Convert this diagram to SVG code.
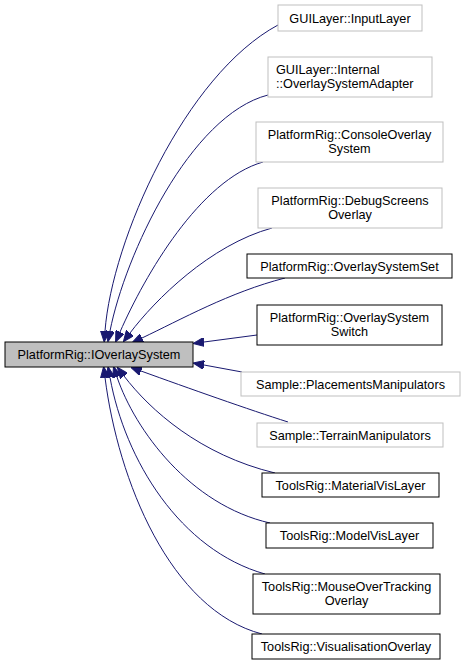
<svg xmlns="http://www.w3.org/2000/svg" width="464" height="672" viewBox="0 0 464 672">
<style>
text{font-family:"Liberation Sans",Arial,sans-serif;font-size:12.7px;fill:#000}
.c{text-anchor:middle}
.g{fill:#fff;stroke:#bfbfbf;stroke-width:1}
.b{fill:#fff;stroke:#000;stroke-width:1}
.m{fill:#bfbfbf;stroke:#000;stroke-width:1}
.e{fill:none;stroke:#191970;stroke-width:1;marker-start:url(#ah)}
</style>
<defs>
<marker id="ah" markerUnits="userSpaceOnUse" markerWidth="11" markerHeight="9" viewBox="0 0 11 9" refX="0" refY="4.5" orient="auto-start-reverse">
<path d="M0,0 L11,4.5 L0,9 z" fill="#191970" stroke="#191970" stroke-width="1"/>
</marker>
</defs>
<g id="edges">
<path class="e" d="M105,331 C112,240 185,75 278,25"/>
<path class="e" d="M110,331 C125,255 190,115 268,95"/>
<path class="e" d="M120,332 C145,275 200,180 263,162"/>
<path class="e" d="M130,333 C155,300 210,245 272,228"/>
<path class="e" d="M142,338 C180,320 230,292 285,278"/>
<path class="e" d="M204,342 L257,335"/>
<path class="e" d="M204,365 L242,372"/>
<path class="e" d="M141,371 C188,388 250,410 288,422"/>
<path class="e" d="M124,376 C150,410 200,455 275,473"/>
<path class="e" d="M117,377 C135,430 190,505 270,523"/>
<path class="e" d="M110,377.5 C125,460 180,550 265,574"/>
<path class="e" d="M105,377.5 C118,480 170,610 262,634"/>
</g>
<g id="main"><rect class="m" x="5" y="342" width="188" height="25"/><text class="c" x="99" y="359">PlatformRig::IOverlaySystem</text></g>
<g id="n1"><rect class="g" x="278" y="5" width="144" height="26"/><text class="c" x="350" y="23">GUILayer::InputLayer</text></g>
<g id="n2"><rect class="g" x="268" y="57" width="164" height="40"/><text x="276" y="74">GUILayer::Internal</text><text x="276" y="88">::OverlaySystemAdapter</text></g>
<g id="n3"><rect class="g" x="256" y="122" width="187" height="40"/><text class="c" x="349.5" y="139">PlatformRig::ConsoleOverlay</text><text class="c" x="349.5" y="153">System</text></g>
<g id="n4"><rect class="g" x="258" y="188" width="184" height="40"/><text class="c" x="350" y="205">PlatformRig::DebugScreens</text><text class="c" x="350" y="219">Overlay</text></g>
<g id="n5"><rect class="b" x="247" y="254" width="205" height="24"/><text class="c" x="349.5" y="270.5">PlatformRig::OverlaySystemSet</text></g>
<g id="n6"><rect class="b" x="257" y="305" width="185" height="40"/><text class="c" x="349.5" y="322">PlatformRig::OverlaySystem</text><text class="c" x="349.5" y="336">Switch</text></g>
<g id="n7"><rect class="g" x="241" y="372" width="219" height="24"/><text class="c" x="350.5" y="388.5">Sample::PlacementsManipulators</text></g>
<g id="n8"><rect class="g" x="257" y="423" width="186" height="24"/><text class="c" x="350" y="439.5">Sample::TerrainManipulators</text></g>
<g id="n9"><rect class="b" x="262" y="473" width="177" height="24"/><text class="c" x="350.5" y="489.5">ToolsRig::MaterialVisLayer</text></g>
<g id="n10"><rect class="b" x="266" y="523" width="167" height="25"/><text class="c" x="349.5" y="540">ToolsRig::ModelVisLayer</text></g>
<g id="n11"><rect class="b" x="253" y="574" width="187" height="40"/><text class="c" x="346.5" y="591">ToolsRig::MouseOverTracking</text><text class="c" x="346.5" y="605">Overlay</text></g>
<g id="n12"><rect class="b" x="252" y="634" width="188" height="25"/><text class="c" x="346" y="651">ToolsRig::VisualisationOverlay</text></g>
</svg>
